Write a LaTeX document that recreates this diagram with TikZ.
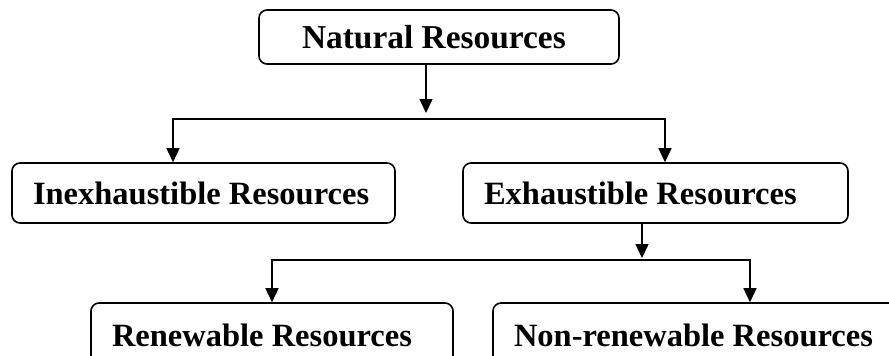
\documentclass[tikz,border=0pt]{standalone}
\usepackage{fontspec}
\setmainfont{Liberation Serif}
\usetikzlibrary{positioning,arrows.meta}

\begin{document}
\begin{tikzpicture}[x=1pt,y=-1pt,
    res/.style={draw, line width=1.6pt, rounded corners=8pt, align=flush left,
        font=\bfseries\fontsize{32.5}{39}\selectfont,
        inner xsep=21pt, inner ysep=0pt, minimum height=60pt},
    arr/.style={-{Triangle[length=14pt,width=13pt]}, line width=1.6pt}]
    \useasboundingbox (0,0) rectangle (889,356);

    % Boxes
    \node[res, text width=274pt, inner xsep=43pt, minimum height=54pt,
        font=\bfseries\fontsize{33.4}{40}\selectfont] (nat) at (439,37) {Natural Resources};
    \node[res, text width=341pt] (inex) at (203.5,193) {Inexhaustible Resources};
    \node[res, text width=343pt] (exh) at (655.5,193) {Exhaustible Resources};
    \node[res, text width=320pt, minimum height=64pt] (ren) at (272,335) {Renewable Resources};
    \node[res, text width=378pt, minimum height=64pt] (non) at (703,335) {Non-renewable Resources};

    % Junctions of the branch lines
    \coordinate (j1) at (426,119);
    \coordinate (b1) at (173,119);
    \coordinate (b2) at (665,119);
    \coordinate (j2) at (642,260);
    \coordinate (b3) at (272,260);
    \coordinate (b4) at (750,260);

    % First level
    \draw[arr, shorten >=6pt] (nat.south -| j1) -- (j1);
    \draw[arr] (j1) -| (b1 |- inex.north);
    \draw[arr] (j1) -| (b2 |- exh.north);

    % Second level
    \draw[arr, shorten >=2pt] (exh.south -| j2) -- (j2);
    \draw[arr] (j2) -| (b3 |- ren.north);
    \draw[arr] (j2) -| (b4 |- non.north);
\end{tikzpicture}
\end{document}
